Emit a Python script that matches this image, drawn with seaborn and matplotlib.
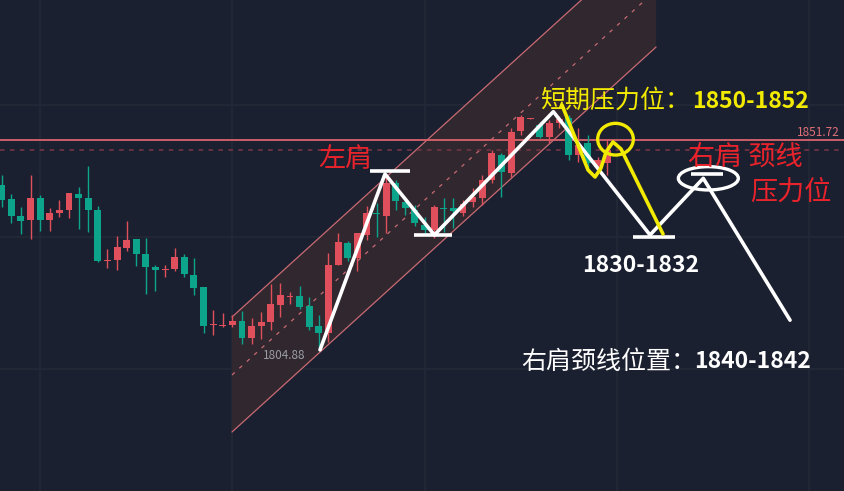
import matplotlib
matplotlib.use('Agg')
import matplotlib.pyplot as plt
from matplotlib.patches import Ellipse, Polygon
import numpy as np
import seaborn as sns

sns.set_theme(style="dark")
plt.rcParams['font.family'] = ['Noto Sans CJK SC', 'DejaVu Sans']

# candle data (red = up, green = down)
opens = [1841.60, 1838.48, 1834.70, 1833.81, 1838.71, 1833.81, 1835.37, 1836.03, 1839.60, 1838.71,
         1836.03, 1824.68, 1824.90, 1827.57, 1829.57, 1826.23, 1823.34, 1822.67, 1822.89, 1825.57,
         1821.56, 1818.89, 1810.42, 1810.20, 1810.42, 1811.31, 1807.53, 1810.20, 1811.09, 1814.88,
         1816.66, 1816.88, 1814.65, 1810.20, 1808.64, 1823.78, 1828.68, 1825.34, 1830.47, 1835.37,
         1834.70, 1842.05, 1837.81, 1836.03, 1832.69, 1831.58, 1836.48, 1836.48, 1835.37, 1837.81,
         1838.71, 1842.71, 1848.28, 1844.27, 1853.63, 1856.30, 1854.96, 1852.29, 1855.41, 1856.52,
         1848.28, 1850.95, 1845.61, 1846.50]
closes = [1838.26, 1834.70, 1833.58, 1838.71, 1833.81, 1835.37, 1836.03, 1839.82, 1838.71, 1836.03,
          1824.68, 1824.90, 1827.79, 1829.35, 1826.23, 1823.34, 1822.67, 1822.89, 1825.57, 1821.78,
          1818.66, 1810.20, 1810.65, 1810.42, 1811.31, 1807.53, 1810.20, 1811.09, 1815.10, 1817.10,
          1816.88, 1814.43, 1809.98, 1808.64, 1823.78, 1828.91, 1825.34, 1830.91, 1835.37, 1835.14,
          1842.05, 1838.04, 1836.48, 1833.14, 1831.58, 1836.70, 1836.26, 1835.81, 1837.37, 1838.93,
          1842.71, 1848.73, 1844.50, 1853.40, 1856.74, 1856.52, 1852.29, 1855.41, 1856.30, 1848.28,
          1850.51, 1846.50, 1847.17, 1849.40]
highs = [1843.83, 1839.60, 1836.70, 1843.83, 1839.37, 1836.48, 1838.26, 1839.82, 1841.16, 1845.83,
         1836.92, 1827.34, 1830.24, 1833.58, 1829.57, 1829.80, 1823.78, 1823.78, 1827.57, 1826.23,
         1825.34, 1818.89, 1813.76, 1813.09, 1812.65, 1813.54, 1811.98, 1813.32, 1819.55, 1819.78,
         1817.77, 1819.11, 1816.66, 1812.65, 1826.46, 1830.91, 1829.13, 1830.91, 1836.92, 1837.59,
         1843.16, 1842.71, 1838.93, 1837.15, 1834.47, 1837.15, 1838.71, 1838.71, 1838.26, 1840.93,
         1843.83, 1849.40, 1848.73, 1854.29, 1857.19, 1856.52, 1855.63, 1856.08, 1856.97, 1857.19,
         1854.29, 1852.74, 1847.84, 1851.62]
lows = [1836.70, 1833.14, 1830.69, 1829.57, 1831.36, 1831.36, 1834.47, 1834.25, 1831.80, 1831.13,
        1824.45, 1823.12, 1822.67, 1826.90, 1823.56, 1817.33, 1818.00, 1821.11, 1822.45, 1821.11,
        1817.10, 1808.64, 1808.20, 1809.98, 1809.98, 1806.19, 1806.19, 1807.31, 1809.31, 1812.20,
        1815.10, 1813.99, 1809.31, 1804.88, 1806.64, 1823.78, 1824.68, 1822.45, 1829.35, 1830.02,
        1830.91, 1836.03, 1834.92, 1832.47, 1830.47, 1829.80, 1831.13, 1832.02, 1834.70, 1836.70,
        1837.15, 1842.05, 1838.93, 1843.38, 1852.74, 1856.30, 1852.07, 1850.95, 1854.29, 1847.17,
        1846.72, 1845.39, 1844.50, 1843.83]

grid_x = [4, 24, 44, 64, 84]
grid_y = [1800.6, 1830.0, 1859.4]
high_line = 1851.72
last_price = closes[-1]

# rising channel (bar index, price)
chan_x = [23.96, 68.09]
chan_low = [1786.59, 1872.33]
chan_mid = [1799.29, 1885.00]
chan_up = [1812.20, 1897.90]

# head-and-shoulders sketch
hs_x = [33.12, 39.88, 45.02, 57.40, 67.46, 73.00, 82.03]
hs_y = [1804.88, 1844.05, 1830.47, 1857.93, 1830.47, 1843.09, 1811.50]
bars_x0 = [38.33, 42.90, 65.69, 71.73]
bars_x1 = [42.49, 46.86, 70.06, 75.06]
bars_y = [1844.72, 1830.40, 1830.09, 1843.98]

yel_x = [58.30, 59.97, 61.01, 61.74, 62.36, 62.88, 63.61, 64.44, 68.81]
yel_y = [1859.42, 1850.51, 1844.94, 1843.38, 1845.39, 1848.95, 1851.18, 1849.62, 1830.69]

BG = '#1b2030'
RED = '#e0505c'
GREEN = '#0ca58b'
YEL = '#f2ea00'
TXT_RED = '#e8232b'

fig = plt.figure(figsize=(8.45, 4.91), dpi=100)
fig.patch.set_facecolor(BG)
ax = fig.add_axes([0, 0, 1, 1])
ax.set_facecolor(BG)
ax.set_xlim(-0.18, 87.75)
ax.set_ylim(1773.45, 1882.80)
ax.set_xticks([])
ax.set_yticks([])
for s in ax.spines.values():
    s.set_visible(False)

for v in grid_x:
    ax.axvline(v, color='#232937', lw=1.2, zorder=0)
for v in grid_y:
    ax.axhline(v, color='#232937', lw=1.2, zorder=0)

# channel
poly = Polygon([(chan_x[0], chan_low[0]), (chan_x[1], chan_low[1]),
                (chan_x[1], chan_up[1]), (chan_x[0], chan_up[0])],
               closed=True, facecolor='#30272f', edgecolor='none', zorder=1)
ax.add_patch(poly)
ax.plot(chan_x, chan_low, color='#c96a72', lw=0.9, zorder=2)
ax.plot(chan_x, chan_up, color='#c96a72', lw=0.9, zorder=2)
ax.plot(chan_x, chan_mid, color='#c96a72', lw=0.9, ls=(0, (3, 5)), zorder=2)

# price lines
ax.axhline(high_line, color='#d9636c', lw=1.3, zorder=2)
ax.axhline(last_price, color='#6e3342', lw=1.3, ls=(0, (2.5, 3)), zorder=2)

# candles
o = np.array(opens)
c = np.array(closes)
idx = np.arange(len(o))
cols = np.where(c >= o, RED, GREEN)
ax.vlines(idx, lows, highs, colors=cols, lw=1, zorder=3)
body_lo = np.minimum(o, c)
body_h = np.maximum(np.abs(c - o), 0.25)
ax.bar(idx, body_h, bottom=body_lo, width=0.72, color=cols, linewidth=0, zorder=4)

# pattern sketch
sns.lineplot(x=hs_x, y=hs_y, sort=False, estimator=None, color='white', lw=2.6, ax=ax, zorder=6)
ax.hlines(bars_y, bars_x0, bars_x1, colors='white', lw=2.6, zorder=6)
sns.lineplot(x=yel_x, y=yel_y, sort=False, estimator=None, color=YEL, lw=2.6, ax=ax, zorder=7)
ax.add_patch(Ellipse((73.53, 1843.09), 6.24, 5.19, fill=False, edgecolor='white', lw=2.4, zorder=6))
ax.add_patch(Ellipse((63.87, 1851.80), 3.71, 7.06, fill=False, edgecolor=YEL, lw=2.4, zorder=7))

cjk = ['Noto Sans CJK SC', 'DejaVu Sans']
# yellow label
ax.text(56.0, 1860.3, '短期压力位：', color=YEL, fontsize=18, fontweight='medium',
        family=cjk, ha='left', va='center', zorder=8)
ax.text(71.8, 1860.3, '1850-1852', color=YEL, fontsize=16.5, fontweight='bold',
        family=cjk, ha='left', va='center', zorder=8)
# red labels
ax.text(32.9, 1847.2, '左肩', color=TXT_RED, fontsize=19.5, family=cjk, ha='left', va='center', zorder=8)
ax.text(71.4, 1847.8, '右肩 颈线', color=TXT_RED, fontsize=19.5, family=cjk, ha='left', va='center', zorder=8)
ax.text(77.9, 1840.0, '压力位', color=TXT_RED, fontsize=19.5, family=cjk, ha='left', va='center', zorder=8)
# white labels
ax.text(60.4, 1823.6, '1830-1832', color='white', fontsize=16.5, fontweight='bold',
        family=cjk, ha='left', va='center', zorder=8)
ax.text(54.1, 1802.2, '右肩颈线位置：', color='white', fontsize=18, fontweight='medium',
        family=cjk, ha='left', va='center', zorder=8)
ax.text(72.1, 1802.2, '1840-1842', color='white', fontsize=16.5, fontweight='bold',
        family=cjk, ha='left', va='center', zorder=8)
ax.text(27.2, 1803.7, '1804.88', color='#9a9ca4', fontsize=8.5, ha='left', va='center', zorder=8)
ax.text(87.2, 1853.4, '1851.72', color='#e07078', fontsize=8.5, ha='right', va='center', zorder=8)

plt.savefig('out.png', dpi=100, facecolor=BG)
plt.close()
